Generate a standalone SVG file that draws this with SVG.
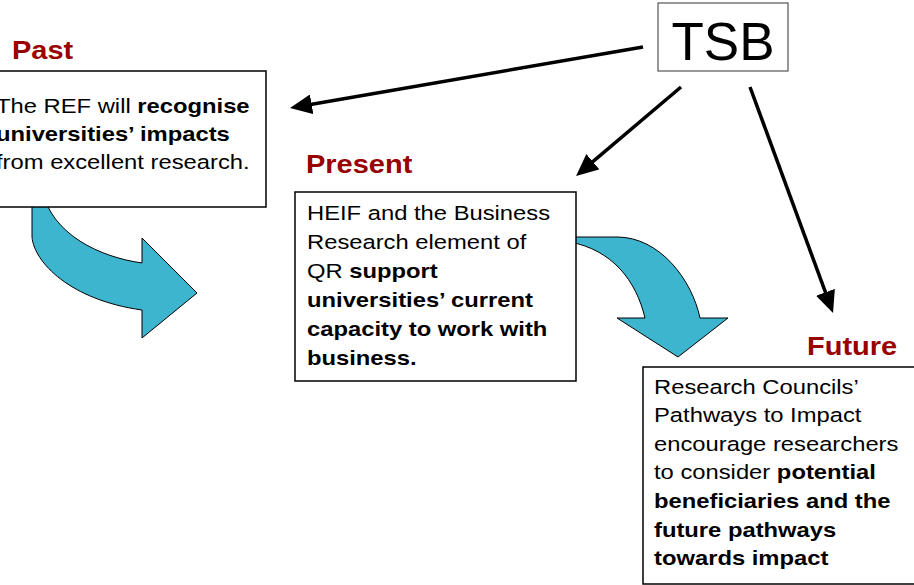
<svg xmlns="http://www.w3.org/2000/svg" width="914" height="585" viewBox="0 0 914 585">
<style>
.box{fill:#fff;stroke:#000;stroke-width:1.5}
.t{font-family:"Liberation Sans",Arial,sans-serif;font-size:20.5px;fill:#000}
.b{font-weight:bold}
.lbl{font-family:"Liberation Sans",Arial,sans-serif;font-size:25px;font-weight:bold;fill:#990000}
.ln{stroke:#000;stroke-width:3.5;fill:none}
.bend{fill:#3db5ce;stroke:#000;stroke-width:1}
</style>
<defs>
<marker id="ah" markerUnits="userSpaceOnUse" markerWidth="22" markerHeight="20" refX="10" refY="10" orient="auto">
<path d="M0,0 L22,10 L0,20 z" fill="#000"/>
</marker>
</defs>
<rect width="914" height="585" fill="#fff"/>
<g id="connectors">
<path class="bend" d="M32,190 L32,237 C34,262 70,300 142,310 L142,338 L197,293 L142,238 L142,263 C100,257 52,235 42,190 Z"/>
<path class="bend" d="M570,237 L617,237 C660,237 692,280 700,318 L728,318 L678,357 L617,318 L645,318 C636,280 612,250 570,242 Z"/>
<line class="ln" x1="643" y1="47" x2="301.8" y2="106" marker-end="url(#ah)"/>
<line class="ln" x1="681" y1="87" x2="585.2" y2="168.2" marker-end="url(#ah)"/>
<line class="ln" x1="750" y1="87" x2="828.9" y2="301.7" marker-end="url(#ah)"/>
</g>
<g id="tsb">
<rect x="658" y="3" width="130" height="68" fill="#fff" stroke="#333" stroke-width="1"/>
<text x="723" y="60" text-anchor="middle" font-family="Liberation Sans, Arial, sans-serif" font-size="53" fill="#000">TSB</text>
</g>
<g id="past">
<text class="lbl" transform="matrix(1.16,0,0,1,12,0)" x="0" y="59">Past</text>
<rect class="box" x="-15" y="71" width="281" height="136"/>
<g transform="matrix(1.16,0,0,1,-4,0)">
<text class="t" x="0" y="113">The REF will <tspan class="b">recognise</tspan></text>
<text class="t b" x="0" y="141">universities’ impacts</text>
<text class="t" x="0" y="169">from excellent research.</text>
</g>
</g>
<g id="present">
<text class="lbl" transform="matrix(1.16,0,0,1,306,0)" x="0" y="173">Present</text>
<rect class="box" x="295" y="192" width="281" height="189"/>
<g transform="matrix(1.16,0,0,1,307,0)">
<text class="t" x="0" y="220">HEIF and the Business</text>
<text class="t" x="0" y="249">Research element of</text>
<text class="t" x="0" y="278">QR <tspan class="b">support</tspan></text>
<text class="t b" x="0" y="307">universities’ current</text>
<text class="t b" x="0" y="336">capacity to work with</text>
<text class="t b" x="0" y="365">business.</text>
</g>
</g>
<g id="future">
<text class="lbl" transform="matrix(1.16,0,0,1,807,0)" x="0" y="355">Future</text>
<rect class="box" x="643" y="367" width="290" height="217"/>
<g transform="matrix(1.16,0,0,1,654,0)">
<text class="t" x="0" y="394">Research Councils’</text>
<text class="t" x="0" y="422">Pathways to Impact</text>
<text class="t" x="0" y="451">encourage researchers</text>
<text class="t" x="0" y="479">to consider <tspan class="b">potential</tspan></text>
<text class="t b" x="0" y="508">beneficiaries and the</text>
<text class="t b" x="0" y="537">future pathways</text>
<text class="t b" x="0" y="565">towards impact</text>
</g>
</g>
</svg>
